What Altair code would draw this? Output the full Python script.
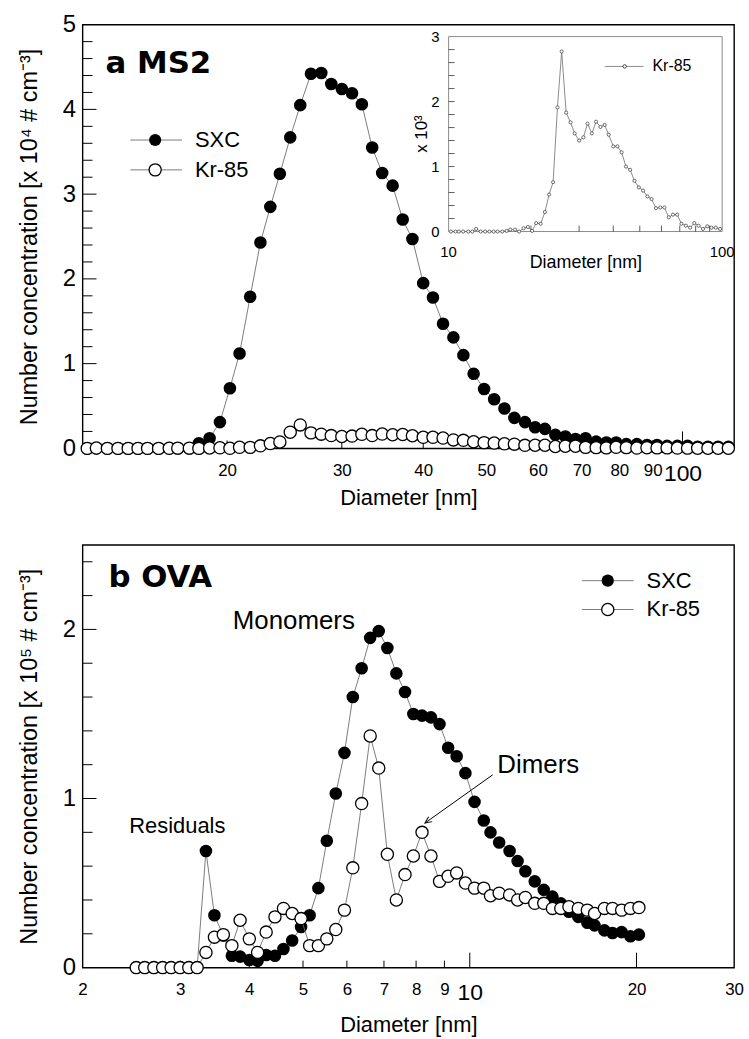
import altair as alt
import pandas as pd

FONT = "Liberation Sans"
BOLD_FONT = "DejaVu Sans"
GREY = "#6e6e6e"

# ---------------- panel a: MS2 ----------------
# SMPS channel midpoints [nm]
ms2_diam = [12.2, 12.6, 13.1, 13.6, 14.1, 14.6, 15.1, 15.7, 16.3, 16.8, 17.5,
            18.1, 18.8, 19.5, 20.2, 20.9, 21.7, 22.5, 23.3, 24.1, 25.0, 25.9,
            26.9, 27.9, 28.9, 30.0, 31.1, 32.2, 33.4, 34.6, 35.9, 37.2, 38.5,
            40.0, 41.4, 42.9, 44.5, 46.1, 47.8, 49.6, 51.4, 53.3, 55.2, 57.3,
            59.4, 61.5, 63.8, 66.1, 68.5, 71.0, 73.7, 76.4, 79.1, 82.0, 85.1,
            88.2, 91.4, 94.7, 98.2, 101.8, 105.5, 109.4, 113.4, 117.6]
# SXC, x 10^4 # cm^-3
ms2_sxc = [0, 0, 0, 0, 0, 0, 0, 0, 0, 0, 0,
           0.06, 0.12, 0.31, 0.71, 1.12, 1.79, 2.43, 2.85, 3.24, 3.67, 4.05,
           4.42, 4.43, 4.30, 4.24, 4.19, 4.06, 3.55, 3.25, 3.10, 2.70, 2.47,
           1.95, 1.78, 1.47, 1.31, 1.10, 0.88, 0.70, 0.58, 0.47, 0.36, 0.31,
           0.25, 0.23, 0.16, 0.14, 0.11, 0.12, 0.08, 0.07, 0.07, 0.05, 0.05,
           0.04, 0.04, 0.03, 0.03, 0.03, 0.02, 0.02, 0.02, 0.02]
# Kr-85, x 10^3 # cm^-3 (inset units)
kr_diam = [10.2, 10.6, 10.9, 11.3, 11.8] + ms2_diam
kr_conc = [0, 0, 0, 0, 0,
           0, 0.04, 0, 0, 0, 0, 0, 0, 0.01, 0.03, 0.03,
           0, 0.05, 0.07, 0.01, 0.13, 0.12, 0.30, 0.57, 0.76, 1.91, 2.77,
           1.83, 1.68, 1.51, 1.40, 1.45, 1.66, 1.51, 1.69, 1.61, 1.64, 1.49,
           1.31, 1.31, 1.22, 1.00, 0.95, 0.78, 0.68, 0.63, 0.54, 0.50, 0.36,
           0.37, 0.37, 0.22, 0.26, 0.26, 0.12, 0.09, 0.06, 0.13, 0.09, 0.04,
           0.08, 0.06, 0.06, 0.04, 0.03, 0.02, 0.02, 0.02, 0.02]

# ---------------- panel b: OVA ----------------
ova_diam = [2.50, 2.59, 2.69, 2.79, 2.89, 3.00, 3.11, 3.22, 3.34, 3.46, 3.59,
            3.72, 3.85, 4.00, 4.14, 4.29, 4.45, 4.61, 4.78, 4.96, 5.14, 5.33,
            5.52, 5.73, 5.94, 6.15, 6.38, 6.61, 6.85, 7.10, 7.37, 7.64, 7.91,
            8.20, 8.51, 8.82, 9.14, 9.47, 9.82, 10.2, 10.6, 10.9, 11.3, 11.8,
            12.2, 12.6, 13.1, 13.6, 14.1, 14.6, 15.1, 15.7, 16.3, 16.8, 17.5,
            18.1, 18.8, 19.5, 20.2]
# x 10^5 # cm^-3
ova_sxc = [0, 0, 0, 0, 0, 0, 0, 0, 0.69, 0.31, 0.19,
           0.07, 0.065, 0.045, 0.04, 0.075, 0.07, 0.11, 0.16, 0.24, 0.31, 0.47,
           0.75, 1.03, 1.27, 1.60, 1.77, 1.95, 1.99, 1.89, 1.74, 1.63, 1.50,
           1.49, 1.48, 1.44, 1.30, 1.25, 1.15, 0.98, 0.87, 0.80, 0.74, 0.69,
           0.63, 0.57, 0.51, 0.46, 0.42, 0.38, 0.33, 0.30, 0.265, 0.25, 0.22,
           0.205, 0.21, 0.185, 0.195]
ova_kr = [0, 0, 0, 0, 0, 0, 0, 0, 0.09, 0.18, 0.195,
          0.13, 0.28, 0.17, 0.09, 0.21, 0.30, 0.35, 0.32, 0.29, 0.13, 0.13,
          0.17, 0.225, 0.34, 0.59, 0.97, 1.37, 1.18, 0.67, 0.40, 0.55, 0.66,
          0.80, 0.66, 0.51, 0.54, 0.56, 0.50, 0.47, 0.47, 0.425, 0.44, 0.43,
          0.40, 0.415, 0.38, 0.38, 0.35, 0.35, 0.36, 0.35, 0.34, 0.32, 0.35,
          0.35, 0.34, 0.35, 0.355]

# ---------------- ticks / labels ----------------
a_x_labels = [20, 30, 40, 50, 60, 70, 80, 90, 100]
a_x_minor = [20, 30, 40, 50, 60, 70, 80, 90]
a_x_major = [100]
a_y_labels = [0, 1, 2, 3, 4, 5]
a_y_minor = [0.2, 0.4, 0.6, 0.8, 1.2, 1.4, 1.6, 1.8, 2.2, 2.4, 2.6, 2.8,
             3.2, 3.4, 3.6, 3.8, 4.2, 4.4, 4.6, 4.8]
a_y_major = [1, 2, 3, 4]

ins_x_labels = [10, 100]
ins_x_ticks = [20, 30, 40, 50, 60, 70, 80, 90]
ins_y_labels = [0, 1, 2, 3]
ins_y_ticks = [0.2, 0.4, 0.6, 0.8, 1.0, 1.2, 1.4, 1.6, 1.8, 2.0, 2.2, 2.4,
               2.6, 2.8]

b_x_labels = [2, 3, 4, 5, 6, 7, 8, 9, 10, 20, 30]
b_x_minor = [3, 4, 5, 6, 7, 8, 9]
b_x_major = [10, 20]
b_y_labels = [0, 1, 2]
b_y_minor = [0.2, 0.4, 0.6, 0.8, 1.2, 1.4, 1.6, 1.8, 2.2, 2.4]
b_y_major = [1, 2]

# "Dimers" arrow: from (diameter, conc) to (diameter, conc)
dimer_arrow = {"d": [11.0], "v": [1.14], "d2": [8.3], "v2": [0.855]}

W = 655
HA = 426
HB = 425

# ---------------- helpers ----------------
def big_label(val, small=17, big=23):
    return {"condition": {"test": f"datum.value == {val}", "value": big},
            "value": small}


def one_row(text=""):
    return pd.DataFrame({"t": [text]})


def text_at(text, x, y, size, align="left", baseline="alphabetic",
            font=FONT, weight="normal", angle=0):
    return alt.Chart(one_row(text)).mark_text(
        align=align, baseline=baseline, font=font, fontSize=size,
        fontWeight=weight, color="black", angle=angle
    ).encode(x=alt.value(x), y=alt.value(y), text="t:N")


def legend_row(x0, x1, xm, xt, y, filled, size=150, tsize=22, label="",
               line_w=0.9, stroke_w=1.3):
    rule = alt.Chart(one_row()).mark_rule(color=GREY, strokeWidth=line_w).encode(
        x=alt.value(x0), x2=alt.value(x1), y=alt.value(y))
    if filled:
        pt = alt.Chart(one_row()).mark_circle(size=size, color="black", opacity=1)
    else:
        pt = alt.Chart(one_row()).mark_circle(size=size, fill="white", stroke="black",
                                              strokeWidth=stroke_w, opacity=1)
    pt = pt.encode(x=alt.value(xm), y=alt.value(y))
    txt = text_at(label, xt, y, tsize, baseline="middle")
    return [rule, pt, txt]


def x_axis(labels, big, title_pad):
    return alt.Axis(
        values=labels, format="d", ticks=False, domain=False, grid=False,
        labelFontSize=big_label(big), labelPadding=14, labelOverlap=False,
        labelFlush=False, labelColor="black", labelFont=FONT,
        title="Diameter [nm]", titleFontSize=22, titleFontWeight="normal",
        titleFont=FONT, titleColor="black", titlePadding=title_pad)


def y_axis(labels, title):
    return alt.Axis(
        values=labels, ticks=False, domain=False, grid=False,
        labelFontSize=24, labelPadding=7, labelColor="black", labelFont=FONT,
        title=title, titleFontSize=23.5, titleFontWeight="normal",
        titleFont=FONT, titleColor="black", titlePadding=21)


# ---------------- panel a main axes ----------------
xa_scale = alt.Scale(type="log", domain=[12, 120], nice=False)
ya_scale = alt.Scale(domain=[0, 5], nice=False, zero=False)
xa_axis = x_axis(a_x_labels, 100, 2)
ya_axis = y_axis(a_y_labels, "Number concentration [x 10⁴ # cm⁻³]")
xa = alt.X("d:Q", scale=xa_scale, axis=xa_axis)
ya = alt.Y("v:Q", scale=ya_scale, axis=ya_axis)

sxc_a = pd.DataFrame({"d": ms2_diam, "v": ms2_sxc})
kr_all = pd.DataFrame({"d": kr_diam, "k": kr_conc})

sxc_a_line = alt.Chart(sxc_a).mark_line(color=GREY, strokeWidth=0.9).encode(x=xa, y=ya)
sxc_a_pts = alt.Chart(sxc_a).mark_circle(size=160, color="black", opacity=1).encode(x=xa, y=ya)
kr_a_base = alt.Chart(kr_all).transform_filter("datum.d >= 12").transform_calculate(v="datum.k / 10")
kr_a_line = kr_a_base.mark_line(color=GREY, strokeWidth=0.9).encode(x=xa, y=ya)
kr_a_pts = kr_a_base.mark_circle(size=150, fill="white", stroke="black",
                                 strokeWidth=1.3, opacity=1).encode(x=xa, y=ya)

a_yt_minor = alt.Chart(pd.DataFrame({"v": a_y_minor})).mark_rule(color="black", strokeWidth=1).encode(
    y=ya, x=alt.value(0), x2=alt.value(10))
a_yt_major = alt.Chart(pd.DataFrame({"v": a_y_major})).mark_rule(color="black", strokeWidth=1).encode(
    y=ya, x=alt.value(0), x2=alt.value(14))
a_xt_minor = alt.Chart(pd.DataFrame({"d": a_x_minor})).mark_rule(color="black", strokeWidth=1).encode(
    x=xa, y=alt.value(HA), y2=alt.value(HA - 8))
a_xt_major = alt.Chart(pd.DataFrame({"d": a_x_major})).mark_rule(color="black", strokeWidth=1).encode(
    x=xa, y=alt.value(HA), y2=alt.value(HA - 17))

main_a = alt.layer(
    a_yt_minor, a_yt_major, a_xt_minor, a_xt_major,
    sxc_a_line, sxc_a_pts, kr_a_line, kr_a_pts,
    text_at("a MS2", 23, 49, 31, font=BOLD_FONT, weight="bold"),
    *legend_row(48, 100, 73, 113, 116, True, label="SXC"),
    *legend_row(48, 100, 73, 113, 146, False, label="Kr-85"),
)

# ---------------- panel a inset (Kr-85, x 10^3) ----------------
IX0, IX1, IY0, IY1 = 368, 643, 12, 208
xi_scale = alt.Scale(type="log", domain=[10, 100], range=[IX0, IX1], nice=False)
yi_scale = alt.Scale(domain=[0, 3], range=[IY1, IY0], nice=False, zero=False)
xi = alt.X("d:Q", scale=xi_scale, axis=None)
yi = alt.Y("v:Q", scale=yi_scale, axis=None)

kr_i_base = alt.Chart(kr_all).transform_filter("datum.d <= 100").transform_calculate(v="datum.k")
kr_i_line = kr_i_base.mark_line(color=GREY, strokeWidth=0.8).encode(x=xi, y=yi)
kr_i_pts = kr_i_base.mark_circle(size=10, fill="white", stroke="#333333",
                                 strokeWidth=0.7, opacity=1).encode(x=xi, y=yi)

ins_frame = alt.Chart(one_row()).mark_rect(filled=False, stroke="#8a8a8a", strokeWidth=1).encode(
    x=alt.value(IX0), x2=alt.value(IX1), y=alt.value(IY0), y2=alt.value(IY1))
ins_yt = alt.Chart(pd.DataFrame({"v": ins_y_ticks})).mark_rule(color="#333333", strokeWidth=0.8).encode(
    y=yi, x=alt.value(IX0), x2=alt.value(IX0 + 6))
ins_xt = alt.Chart(pd.DataFrame({"d": ins_x_ticks})).mark_rule(color="#333333", strokeWidth=0.8).encode(
    x=xi, y=alt.value(IY1), y2=alt.value(IY1 - 6))
ins_xl = alt.Chart(pd.DataFrame({"d": ins_x_labels, "t": ["10", "100"]})).mark_text(
    baseline="top", font=FONT, fontSize=15, color="black").encode(
    x=xi, y=alt.value(IY1 + 14), text="t:N")
ins_yl = alt.Chart(pd.DataFrame({"v": ins_y_labels, "t": ["0", "1", "2", "3"]})).mark_text(
    align="right", baseline="middle", font=FONT, fontSize=15, color="black").encode(
    y=yi, x=alt.value(IX0 - 9), text="t:N")

inset = alt.layer(
    ins_frame, ins_yt, ins_xt, kr_i_line, kr_i_pts, ins_xl, ins_yl,
    text_at("Diameter [nm]", 506, 245, 18, align="center"),
    text_at("x 10³", 341, 110, 17, align="center", baseline="middle", angle=270),
    *legend_row(525, 564, 545, 573, 42, False, size=12, tsize=16, label="Kr-85",
                line_w=0.8, stroke_w=0.7),
)

panel_a = alt.layer(main_a, inset).resolve_scale(x="independent", y="independent").properties(
    width=W, height=HA)

# ---------------- panel b ----------------
xb_scale = alt.Scale(type="log", domain=[2, 30], nice=False)
yb_scale = alt.Scale(domain=[0, 2.5], nice=False, zero=False)
xb_axis = x_axis(b_x_labels, 10, 10)
yb_axis = y_axis(b_y_labels, "Number concentration [x 10⁵ # cm⁻³]")
xb = alt.X("d:Q", scale=xb_scale, axis=xb_axis)
yb = alt.Y("v:Q", scale=yb_scale, axis=yb_axis)

sxc_b = pd.DataFrame({"d": ova_diam, "v": ova_sxc})
kr_b = pd.DataFrame({"d": ova_diam, "v": ova_kr})

sxc_b_line = alt.Chart(sxc_b).mark_line(color=GREY, strokeWidth=0.9).encode(x=xb, y=yb)
sxc_b_pts = alt.Chart(sxc_b).mark_circle(size=160, color="black", opacity=1).encode(x=xb, y=yb)
kr_b_line = alt.Chart(kr_b).mark_line(color=GREY, strokeWidth=0.9).encode(x=xb, y=yb)
kr_b_pts = alt.Chart(kr_b).mark_circle(size=150, fill="white", stroke="black",
                                       strokeWidth=1.3, opacity=1).encode(x=xb, y=yb)

b_yt_minor = alt.Chart(pd.DataFrame({"v": b_y_minor})).mark_rule(color="black", strokeWidth=1).encode(
    y=yb, x=alt.value(0), x2=alt.value(10))
b_yt_major = alt.Chart(pd.DataFrame({"v": b_y_major})).mark_rule(color="black", strokeWidth=1).encode(
    y=yb, x=alt.value(0), x2=alt.value(14))
b_xt_minor = alt.Chart(pd.DataFrame({"d": b_x_minor})).mark_rule(color="black", strokeWidth=1).encode(
    x=xb, y=alt.value(HB), y2=alt.value(HB - 7))
b_xt_major = alt.Chart(pd.DataFrame({"d": b_x_major})).mark_rule(color="black", strokeWidth=1).encode(
    x=xb, y=alt.value(HB), y2=alt.value(HB - 15))

arrow_df = pd.DataFrame(dimer_arrow)
arrow_line = alt.Chart(arrow_df).mark_rule(color="black", strokeWidth=1).encode(
    x=xb, y=yb, x2="d2:Q", y2="v2:Q")
arrow_head = alt.Chart(arrow_df).mark_point(
    shape="M-0.45,1L0,0L0.45,1", size=180, filled=False, color="black",
    strokeWidth=1, angle=234.6, opacity=1).encode(
    x=alt.X("d2:Q", scale=xb_scale, axis=xb_axis),
    y=alt.Y("v2:Q", scale=yb_scale, axis=yb_axis))

panel_b = alt.layer(
    b_yt_minor, b_yt_major, b_xt_minor, b_xt_major,
    sxc_b_line, sxc_b_pts, kr_b_line, kr_b_pts,
    arrow_line, arrow_head,
    text_at("b OVA", 26, 42, 31, font=BOLD_FONT, weight="bold"),
    text_at("Monomers", 151, 85, 26),
    text_at("Residuals", 47, 290, 22),
    text_at("Dimers", 417, 229, 26),
    *legend_row(502, 554, 528, 567, 36, True, label="SXC"),
    *legend_row(502, 554, 528, 567, 65, False, label="Kr-85"),
).properties(width=W, height=HB)

chart = alt.vconcat(panel_a, panel_b, spacing=35).properties(
    padding={"left": 16, "top": 9, "right": 4, "bottom": 2},
    background="white",
).configure(
    font=FONT,
    view=alt.ViewConfig(stroke="black", strokeWidth=1.4),
)

chart.save("out.html", embed_options={"renderer": "svg", "actions": False})
